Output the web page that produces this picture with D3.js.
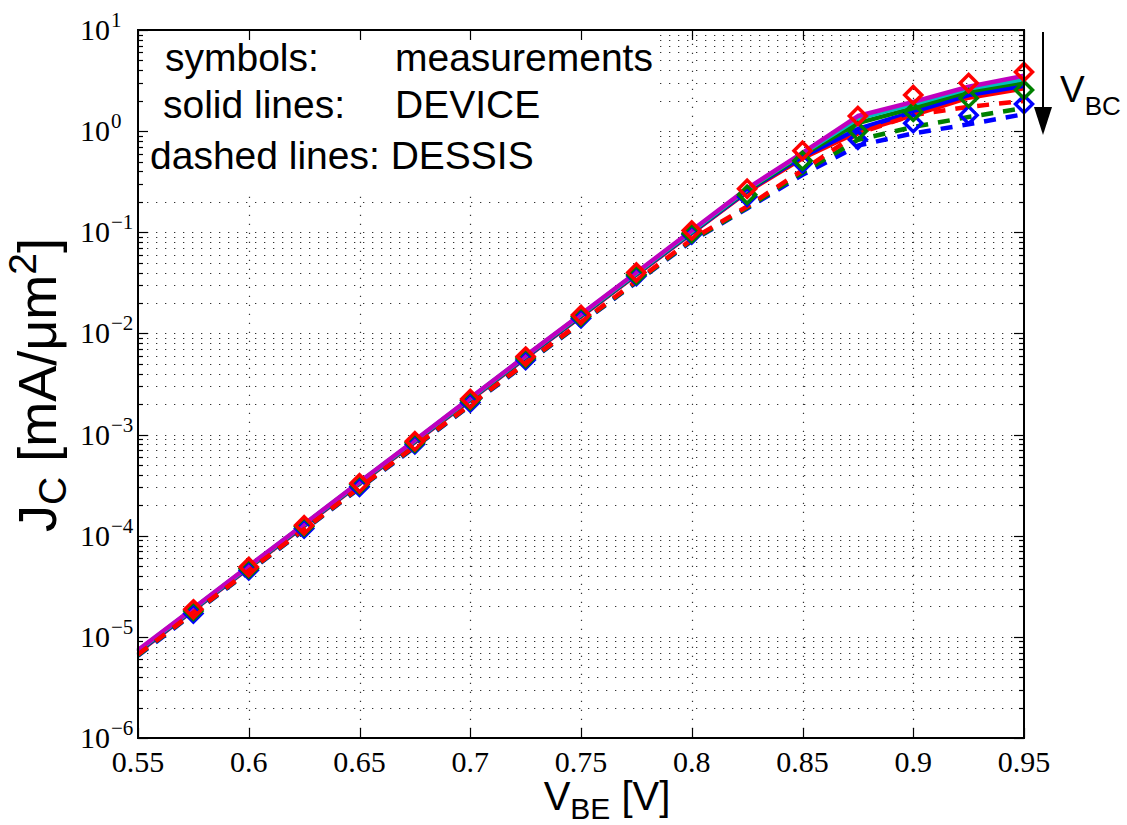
<!DOCTYPE html>
<html>
<head>
<meta charset="utf-8">
<script src="https://cdn.jsdelivr.net/npm/d3@7"></script>
<style>
  body { margin: 0; background: #fff; }
  .sans { font-family: "Liberation Sans", Arial, Helvetica, sans-serif; }
  .serif { font-family: "Liberation Serif", "Times New Roman", serif; }
</style>
</head>
<body>
<div id="chart"></div>
<script>
// ---------------- data ----------------
const vbe = [0.55, 0.575, 0.6, 0.625, 0.65, 0.675, 0.7, 0.725, 0.75, 0.775, 0.8, 0.825, 0.85, 0.875, 0.9, 0.925, 0.95];
const vbeMeas = [0.575, 0.6, 0.625, 0.65, 0.675, 0.7, 0.725, 0.75, 0.775, 0.8, 0.825, 0.85, 0.875, 0.9, 0.925, 0.95];

// measurements (symbols)
const measRed   = [1.87e-5, 4.9e-5, 1.27e-4, 3.3e-4, 8.6e-4, 2.25e-3, 5.9e-3, 0.0152, 0.040, 0.104, 0.27, 0.64, 1.41, 2.28, 2.99, 3.84];
const measGreen = [1.8e-5, 4.75e-5, 1.23e-4, 3.2e-4, 8.3e-4, 2.17e-3, 5.7e-3, 0.0147, 0.038, 0.098, 0.235, 0.51, 1.0, 1.55, 2.12, 2.55];
const measBlue  = [1.7e-5, 4.55e-5, 1.18e-4, 3.05e-4, 8.0e-4, 2.08e-3, 5.45e-3, 0.0141, 0.037, 0.095, 0.225, 0.48, 0.82, 1.2, 1.44, 1.85];

// DEVICE (solid lines)
const devMagenta = [7.4e-6, 1.92e-5, 5.0e-5, 1.3e-4, 3.4e-4, 8.8e-4, 2.3e-3, 6.0e-3, 0.0155, 0.040, 0.104, 0.27, 0.61, 1.41, 1.95, 2.75, 3.53];
const devCyan    = [7.3e-6, 1.9e-5, 4.95e-5, 1.29e-4, 3.37e-4, 8.7e-4, 2.28e-3, 5.95e-3, 0.0153, 0.0395, 0.102, 0.265, 0.60, 1.33, 1.85, 2.64, 3.27];
const devGreen   = [7.2e-6, 1.88e-5, 4.9e-5, 1.28e-4, 3.33e-4, 8.6e-4, 2.25e-3, 5.9e-3, 0.0151, 0.039, 0.101, 0.26, 0.58, 1.20, 1.69, 2.47, 3.06];
const devBlue    = [7.1e-6, 1.86e-5, 4.85e-5, 1.26e-4, 3.3e-4, 8.5e-4, 2.22e-3, 5.8e-3, 0.0149, 0.0385, 0.099, 0.255, 0.56, 1.05, 1.55, 2.27, 2.81];
const devRed     = [7.0e-6, 1.84e-5, 4.8e-5, 1.25e-4, 3.26e-4, 8.4e-4, 2.2e-3, 5.75e-3, 0.0147, 0.038, 0.098, 0.25, 0.54, 0.98, 1.44, 2.14, 2.65];

// DESSIS (dashed lines)
const desRed   = [6.7e-6, 1.74e-5, 4.5e-5, 1.16e-4, 3.0e-4, 7.7e-4, 1.98e-3, 5.1e-3, 0.0129, 0.033, 0.085, 0.18, 0.41, 0.95, 1.44, 1.74, 1.99];
const desGreen = [6.6e-6, 1.72e-5, 4.45e-5, 1.15e-4, 2.97e-4, 7.6e-4, 1.96e-3, 5.05e-3, 0.0127, 0.0325, 0.083, 0.175, 0.39, 0.82, 1.1, 1.38, 1.69];
const desBlue  = [6.5e-6, 1.7e-5, 4.4e-5, 1.14e-4, 2.94e-4, 7.5e-4, 1.94e-3, 5.0e-3, 0.0126, 0.032, 0.082, 0.172, 0.37, 0.72, 0.95, 1.17, 1.47];

// tick labels
const xTicks = [0.55, 0.6, 0.65, 0.7, 0.75, 0.8, 0.85, 0.9, 0.95];
const xTickLabels = ["0.55", "0.6", "0.65", "0.7", "0.75", "0.8", "0.85", "0.9", "0.95"];
const yExponents = [-6, -5, -4, -3, -2, -1, 0, 1];

// ---------------- layout ----------------
const width = 1127;
const height = 825;
const margin = { top: 30, right: 103, bottom: 87, left: 138 };

const svg = d3.select('#chart')
  .append('svg')
  .attr('width', width)
  .attr('height', height);

const x = d3.scaleLinear()
  .domain([0.55, 0.95])
  .range([margin.left, width - margin.right]);

const y = d3.scaleLog()
  .domain([1e-6, 10])
  .range([height - margin.bottom, margin.top]);

const x0 = x.range()[0], x1 = x.range()[1];
const y0 = y.range()[0], y1 = y.range()[1];

// grid (dotted)
const gridStyle = g => g
  .attr("stroke", "#333")
  .attr("stroke-width", 1.2)
  .attr("stroke-dasharray", "1.3 7.7");

svg.append("g").call(gridStyle)
  .selectAll("line")
  .data(y.ticks())
  .enter()
  .append("line")
  .attr("x1", x0).attr("x2", x1)
  .attr("y1", d => Math.round(y(d)) + 0.5)
  .attr("y2", d => Math.round(y(d)) + 0.5);

svg.append("g").call(gridStyle)
  .selectAll("line")
  .data(xTicks.slice(1, -1))
  .enter()
  .append("line")
  .attr("x1", d => Math.round(x(d)) + 0.5)
  .attr("x2", d => Math.round(x(d)) + 0.5)
  .attr("y1", y0).attr("y2", y1);

// white box behind the annotation text
svg.append("rect")
  .attr("x", x0 + 2)
  .attr("y", y1 + 2)
  .attr("width", 516)
  .attr("height", 163)
  .attr("fill", "#fff");

// ticks on all four sides, pointing inward
const ticks = svg.append("g").attr("stroke", "#000").attr("stroke-width", 1.2);
y.ticks().forEach(d => {
  const major = Math.abs(Math.log10(d) - Math.round(Math.log10(d))) < 1e-9;
  const len = major ? 10 : 5;
  const yy = Math.round(y(d)) + 0.5;
  ticks.append("line").attr("x1", x0).attr("x2", x0 + len).attr("y1", yy).attr("y2", yy);
  ticks.append("line").attr("x1", x1).attr("x2", x1 - len).attr("y1", yy).attr("y2", yy);
});
xTicks.forEach(d => {
  const xx = Math.round(x(d)) + 0.5;
  ticks.append("line").attr("x1", xx).attr("x2", xx).attr("y1", y0).attr("y2", y0 - 10);
  ticks.append("line").attr("x1", xx).attr("x2", xx).attr("y1", y1).attr("y2", y1 + 10);
});

// ---------------- series ----------------
const line = d3.line()
  .x((d, i) => x(vbe[i]))
  .y(d => y(d));

const plot = svg.append("g");

const solidSeries = [
  { values: devRed, color: "#ff0000" },
  { values: devBlue, color: "#0000ff" },
  { values: devGreen, color: "#008000" },
  { values: devCyan, color: "#00bfbf" },
  { values: devMagenta, color: "#bf00bf" }
];
const dashedSeries = [
  { values: desBlue, color: "#0000ff" },
  { values: desGreen, color: "#008000" },
  { values: desRed, color: "#ff0000" }
];

solidSeries.forEach(s => {
  plot.append("path")
    .attr("d", line(s.values))
    .attr("fill", "none")
    .attr("stroke", s.color)
    .attr("stroke-width", 4.5)
    .attr("stroke-linejoin", "round");
});

dashedSeries.forEach(s => {
  plot.append("path")
    .attr("d", line(s.values))
    .attr("fill", "none")
    .attr("stroke", s.color)
    .attr("stroke-width", 4.5)
    .attr("stroke-dasharray", "12 10");
});

// diamonds
const diamond = "M0,-8.5L8.5,0L0,8.5L-8.5,0Z";
const measSeries = [
  { values: measBlue, color: "#0000ff" },
  { values: measGreen, color: "#008000" },
  { values: measRed, color: "#ff0000" }
];
measSeries.forEach(s => {
  plot.append("g")
    .selectAll("path")
    .data(s.values)
    .enter()
    .append("path")
    .attr("d", diamond)
    .attr("transform", (d, i) => `translate(${x(vbeMeas[i])},${y(d)})`)
    .attr("fill", "none")
    .attr("stroke", s.color)
    .attr("stroke-width", 3.5);
});

// axes box
svg.append("rect")
  .attr("x", x0).attr("y", y1)
  .attr("width", x1 - x0).attr("height", y0 - y1)
  .attr("fill", "none")
  .attr("stroke", "#000")
  .attr("stroke-width", 2);

// ---------------- tick labels ----------------
svg.append("g")
  .attr("class", "serif")
  .attr("font-size", 30)
  .attr("text-anchor", "middle")
  .selectAll("text")
  .data(xTicks)
  .enter()
  .append("text")
  .attr("x", d => x(d))
  .attr("y", y0 + 34)
  .text((d, i) => xTickLabels[i]);

const yLab = svg.append("g")
  .attr("class", "serif")
  .attr("font-size", 30)
  .selectAll("text")
  .data(yExponents)
  .enter()
  .append("text")
  .attr("x", 80)
  .attr("y", d => y(Math.pow(10, d)) + 10);
yLab.append("tspan").text("10");
yLab.append("tspan")
  .attr("font-size", 21)
  .attr("dy", -13)
  .attr("dx", 1)
  .text(d => d < 0 ? "\u2212" + Math.abs(d) : String(d));

// ---------------- axis titles ----------------
const xTitle = svg.append("text")
  .attr("class", "sans")
  .attr("font-size", 40)
  .attr("text-anchor", "middle")
  .attr("x", (x0 + x1) / 2 + 26)
  .attr("y", 810);
xTitle.append("tspan").text("V");
xTitle.append("tspan").attr("font-size", 30).attr("dy", 9).text("BE");
xTitle.append("tspan").attr("dy", -9).text(" [V]");

const yTitle = svg.append("text")
  .attr("class", "sans")
  .attr("font-size", 54)
  .attr("text-anchor", "middle")
  .attr("transform", "translate(56,385) rotate(-90)");
yTitle.append("tspan").text("J");
yTitle.append("tspan").attr("font-size", 39).attr("dy", 10).text("C");
yTitle.append("tspan").attr("dy", -10).text(" [mA/\u03bcm");
yTitle.append("tspan").attr("font-size", 39).attr("dy", -20).text("2");
yTitle.append("tspan").attr("dy", 20).text("]");

// ---------------- annotation ----------------
const note = svg.append("g").attr("class", "sans").attr("font-size", 39);
note.append("text").attr("x", 165).attr("y", 71).text("symbols:");
note.append("text").attr("x", 395).attr("y", 71).text("measurements");
note.append("text").attr("x", 163).attr("y", 118).text("solid lines:");
note.append("text").attr("x", 395).attr("y", 118).text("DEVICE");
note.append("text").attr("x", 150).attr("y", 169).text("dashed lines: DESSIS");

// V_BC arrow
svg.append("line")
  .attr("x1", 1043).attr("x2", 1043)
  .attr("y1", 32).attr("y2", 108)
  .attr("stroke", "#000")
  .attr("stroke-width", 2);
svg.append("path")
  .attr("d", "M1034,107L1052,107L1043,135Z")
  .attr("fill", "#000");

const vbc = svg.append("text")
  .attr("class", "sans")
  .attr("font-size", 37)
  .attr("x", 1060)
  .attr("y", 102);
vbc.append("tspan").text("V");
vbc.append("tspan").attr("font-size", 26).attr("dy", 13).text("BC");
</script>
</body>
</html>
